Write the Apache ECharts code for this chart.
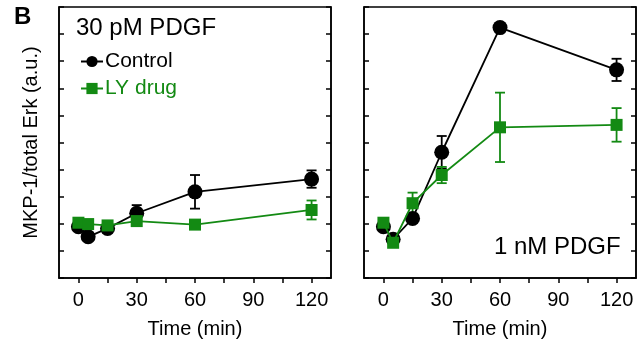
<!DOCTYPE html>
<html>
<head>
<meta charset="utf-8">
<script src="https://cdn.jsdelivr.net/npm/echarts@6/dist/echarts.min.js"></script>
<style>
html,body{margin:0;padding:0;background:#fff;}
#chart{width:643px;height:341px;}
</style>
</head>
<body>
<div id="chart"></div>
<script>
// ---- data ----
const timesMin = [0, 5, 15, 30, 60, 120];
const xTickValues = [0, 15, 30, 45, 60, 75, 90, 105, 120];
const xLabelValues = [0, 30, 60, 90, 120];

const control30pM = [1.89, 1.52, 1.83, 2.39, 3.18, 3.65];
const control30pMErr = [0, 0, 0, 0.30, 0.62, 0.32];
const ly30pM = [2.04, 1.99, 1.94, 2.10, 1.97, 2.51];
const ly30pMErr = [0, 0, 0, 0, 0, 0.35];

const control1nM = [1.89, 1.43, 2.20, 4.64, 9.24, 7.68];
const control1nMErr = [0, 0, 0, 0.60, 0, 0.41];
const ly1nM = [2.04, 1.30, 2.76, 3.80, 5.56, 5.65];
const ly1nMErr = [0, 0, 0.39, 0.30, 1.28, 0.62];

const seriesNames = ['Control', 'LY drug'];
const panelLabels = ['30 pM PDGF', '1 nM PDGF'];
const yAxisTitle = 'MKP-1/total Erk (a.u.)';
const xAxisTitle = 'Time (min)';
const panelLetter = 'B';

// ---- styling ----
const FONT = '"Liberation Sans", Arial, Helvetica, sans-serif';
const BLACK = '#000000';
const GREEN = '#138a13';

function pairs(xs, ys, es) {
  return xs.map((x, i) => es ? [x, ys[i], es[i]] : [x, ys[i]]);
}

function errorSeries(xs, ys, es, color, gi) {
  return {
    type: 'custom',
    xAxisIndex: gi, yAxisIndex: gi * 2,
    z: 1,
    silent: true,
    data: pairs(xs, ys, es).filter(d => d[2] > 0),
    renderItem: function (params, api) {
      const x = api.value(0), y = api.value(1), e = api.value(2);
      const top = api.coord([x, y + e]);
      const bot = api.coord([x, y - e]);
      const c = 5;
      const st = { stroke: color, lineWidth: 1.8 };
      return {
        type: 'group',
        children: [
          { type: 'line', shape: { x1: top[0], y1: top[1], x2: bot[0], y2: bot[1] }, style: st },
          { type: 'line', shape: { x1: top[0] - c, y1: top[1], x2: top[0] + c, y2: top[1] }, style: st },
          { type: 'line', shape: { x1: bot[0] - c, y1: bot[1], x2: bot[0] + c, y2: bot[1] }, style: st }
        ]
      };
    }
  };
}

function lineSeries(name, xs, ys, color, symbol, size, gi, z) {
  return {
    name: name,
    type: 'line',
    xAxisIndex: gi, yAxisIndex: gi * 2,
    data: pairs(xs, ys),
    symbol: symbol,
    symbolSize: size,
    showAllSymbol: true,
    z: z,
    lineStyle: { color: color, width: 1.8 },
    itemStyle: { color: color, borderWidth: 0 },
    emphasis: { disabled: true },
    animation: false
  };
}

const grids = [
  { left: 59, top: 7, width: 272, height: 271 },
  { left: 364, top: 7, width: 272, height: 271 }
];

const xAxes = grids.map((g, gi) => ({
  type: 'value', gridIndex: gi, min: -10, max: 130,
  name: xAxisTitle, nameLocation: 'middle', nameGap: 41,
  nameTextStyle: { fontFamily: FONT, fontSize: 20, color: BLACK },
  axisLine: { show: true, onZero: false, lineStyle: { color: BLACK, width: 1.5 } },
  axisTick: { show: true, inside: false, length: 5, lineStyle: { color: BLACK, width: 1.5 }, customValues: xTickValues },
  axisLabel: { show: true, margin: 12, fontFamily: FONT, fontSize: 20, color: BLACK, customValues: xLabelValues },
  splitLine: { show: false }
}));

const yAxes = [];
grids.forEach((g, gi) => {
  yAxes.push({
    type: 'value', gridIndex: gi, min: 0, max: 10, interval: 1, position: 'left',
    name: gi === 0 ? yAxisTitle : '', nameLocation: 'middle', nameGap: 18,
    nameTextStyle: { fontFamily: FONT, fontSize: 20, color: BLACK },
    axisLine: { show: true, onZero: false, lineStyle: { color: BLACK, width: 1.5 } },
    axisTick: { show: true, inside: true, length: 5, lineStyle: { color: BLACK, width: 1.5 } },
    axisLabel: { show: false },
    splitLine: { show: false }
  });
  yAxes.push({
    type: 'value', gridIndex: gi, min: 0, max: 10, interval: 1, position: 'right',
    axisLine: { show: true, onZero: false, lineStyle: { color: BLACK, width: 1.5 } },
    axisTick: { show: true, inside: true, length: 5, lineStyle: { color: BLACK, width: 1.5 } },
    axisLabel: { show: false },
    splitLine: { show: false }
  });
});

const series = [
  errorSeries(timesMin, control30pM, control30pMErr, BLACK, 0),
  errorSeries(timesMin, ly30pM, ly30pMErr, GREEN, 0),
  lineSeries(seriesNames[0], timesMin, control30pM, BLACK, 'circle', 15, 0, 2),
  lineSeries(seriesNames[1], timesMin, ly30pM, GREEN, 'rect', 12, 0, 3),
  errorSeries(timesMin, control1nM, control1nMErr, BLACK, 1),
  errorSeries(timesMin, ly1nM, ly1nMErr, GREEN, 1),
  lineSeries(seriesNames[0], timesMin, control1nM, BLACK, 'circle', 15, 1, 2),
  lineSeries(seriesNames[1], timesMin, ly1nM, GREEN, 'rect', 12, 1, 3)
];

const chart = echarts.init(document.getElementById('chart'), null, { renderer: 'canvas' });
chart.setOption({
  animation: false,
  backgroundColor: '#ffffff',
  grid: grids.map(g => Object.assign({
    show: true, borderColor: BLACK, borderWidth: 1.5, backgroundColor: 'transparent',
    containLabel: false, outerBoundsMode: 'none'
  }, g)),
  xAxis: xAxes,
  yAxis: yAxes,
  legend: {
    orient: 'vertical', left: 75, top: 46,
    itemWidth: 22, itemHeight: 14, itemGap: 6,
    selectedMode: false,
    data: [
      { name: seriesNames[0], textStyle: { color: BLACK } },
      { name: seriesNames[1], textStyle: { color: GREEN } }
    ],
    textStyle: { fontFamily: FONT, fontSize: 21, padding: [0, 0, 0, -3] }
  },
  graphic: [
    { type: 'text', left: 14, top: 5, style: { text: panelLetter, font: 'bold 24px ' + FONT, fill: BLACK } },
    { type: 'text', left: 76, top: 16, style: { text: panelLabels[0], font: '24px ' + FONT, fill: BLACK } },
    { type: 'text', left: 494, top: 235, style: { text: panelLabels[1], font: '24px ' + FONT, fill: BLACK } }
  ],
  series: series
});
</script>
</body>
</html>
